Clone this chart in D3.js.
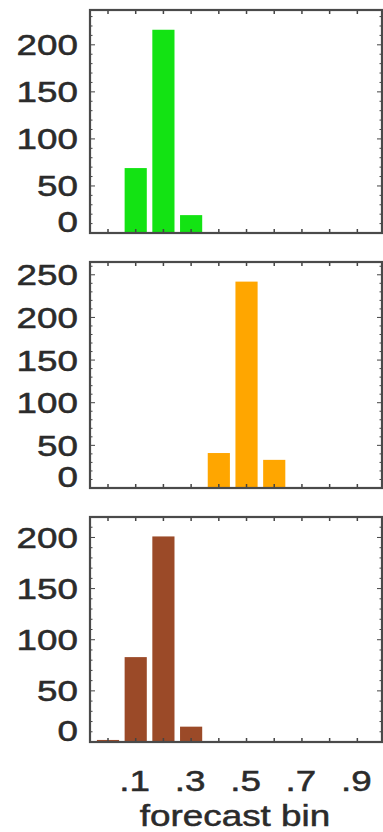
<!DOCTYPE html>
<html>
<head>
<meta charset="utf-8">
<script src="https://cdn.jsdelivr.net/npm/d3@7"></script>
<style>
  html, body { margin: 0; padding: 0; background: #fff; }
  text { font-family: "Liberation Sans", Arial, sans-serif; fill: #2b2b2b; stroke: #2b2b2b; stroke-width: 0.5px; }
</style>
</head>
<body>
<div id="chart"></div>
<script>
/** Forecast bins (x) */
const bins = [0, 0.1, 0.2, 0.3, 0.4, 0.5, 0.6, 0.7, 0.8, 0.9];
const xTickLabels = [".1", ".3", ".5", ".7", ".9"];
const xTickValues = [0.1, 0.3, 0.5, 0.7, 0.9];

/** Counts per bin for each panel */
const greenCounts = [0, 69, 216, 19, 0, 0, 0, 0, 0, 0];
const orangeCounts = [0, 0, 0, 0, 41, 242, 33, 0, 0, 0];
const brownCounts = [2, 83, 201, 15, 0, 0, 0, 0, 0, 0];

/** Y tick labels per panel */
const greenTicks = [0, 50, 100, 150, 200];
const orangeTicks = [0, 50, 100, 150, 200, 250];
const brownTicks = [0, 50, 100, 150, 200];

/** Graph configs */
const width = 383;
const height = 832;
const left = 90;
const right = 382;
const fontSize = 29;
const stretch = 1.27; // text looks squashed wider than tall in the source
const barWidth = 0.08;

const panels = [
  { counts: greenCounts, ticks: greenTicks, yMax: 237, top: 10, bottom: 233, color: "#13e313" },
  { counts: orangeCounts, ticks: orangeTicks, yMax: 265, top: 262, bottom: 488, color: "#ffa600" },
  { counts: brownCounts, ticks: brownTicks, yMax: 220, top: 517, bottom: 742, color: "#9b4a28" },
];

const svg = d3
  .select("#chart")
  .append("svg")
  .attr("width", width)
  .attr("height", height);

const xScale = d3.scaleLinear().domain([-0.065, 0.989]).range([left, right]);

panels.forEach((p, i) => {
  const yScale = d3.scaleLinear().domain([0, p.yMax]).range([p.bottom, p.top]);
  const g = svg.append("g");

  /** Bars */
  g.selectAll("rect")
    .data(bins.map((b, j) => ({ bin: b, value: p.counts[j] })).filter((d) => d.value > 0))
    .enter()
    .append("rect")
    .attr("x", (d) => xScale(d.bin - barWidth / 2))
    .attr("width", (d) => xScale(d.bin + barWidth / 2) - xScale(d.bin - barWidth / 2))
    .attr("y", (d) => yScale(d.value))
    .attr("height", (d) => yScale(0) - yScale(d.value))
    .attr("fill", p.color);

  /** Minor/major y ticks on left and right (pointing inwards) */
  const minor = d3.range(0, p.yMax, 10);
  [left, right].forEach((xPos, side) => {
    const dir = side === 0 ? 1 : -1;
    g.selectAll(null)
      .data(minor)
      .enter()
      .append("line")
      .attr("x1", xPos)
      .attr("x2", (d) => xPos + dir * (d % 50 === 0 ? 5 : 2.5))
      .attr("y1", (d) => yScale(d))
      .attr("y2", (d) => yScale(d))
      .attr("stroke", "#444")
      .attr("stroke-width", 1);
  });

  /** X ticks on bottom and top */
  [p.bottom, p.top].forEach((yPos, side) => {
    const dir = side === 0 ? -1 : 1;
    g.selectAll(null)
      .data(bins)
      .enter()
      .append("line")
      .attr("x1", (d) => xScale(d))
      .attr("x2", (d) => xScale(d))
      .attr("y1", yPos)
      .attr("y2", yPos + dir * 4)
      .attr("stroke", "#444")
      .attr("stroke-width", 1.5);
  });

  /** Frame */
  g.append("rect")
    .attr("x", left)
    .attr("y", p.top)
    .attr("width", right - left)
    .attr("height", p.bottom - p.top)
    .attr("fill", "none")
    .attr("stroke", "#4a4a4a")
    .attr("stroke-width", 2.2);

  /** Y labels (0 nudged up to clear the axis) */
  g.selectAll(null)
    .data(p.ticks)
    .enter()
    .append("text")
    .attr("transform", (d) => `translate(78,${yScale(d) - (d === 0 ? 11 : 0)}) scale(${stretch},1)`)
    .attr("text-anchor", "end")
    .attr("dy", "0.36em")
    .attr("font-size", fontSize)
    .text((d) => d);

  /** X labels on the last panel only */
  if (i === panels.length - 1) {
    g.selectAll(null)
      .data(xTickValues)
      .enter()
      .append("text")
      .attr("transform", (d) => `translate(${xScale(d) - 1},791) scale(${stretch},1)`)
      .attr("text-anchor", "middle")
      .attr("font-size", fontSize)
      .text((d, j) => xTickLabels[j]);

    g.append("text")
      .attr("transform", `translate(${(left + right) / 2 - 1},826) scale(${stretch},1)`)
      .attr("text-anchor", "middle")
      .attr("font-size", fontSize)
      .text("forecast bin");
  }
});
</script>
</body>
</html>
